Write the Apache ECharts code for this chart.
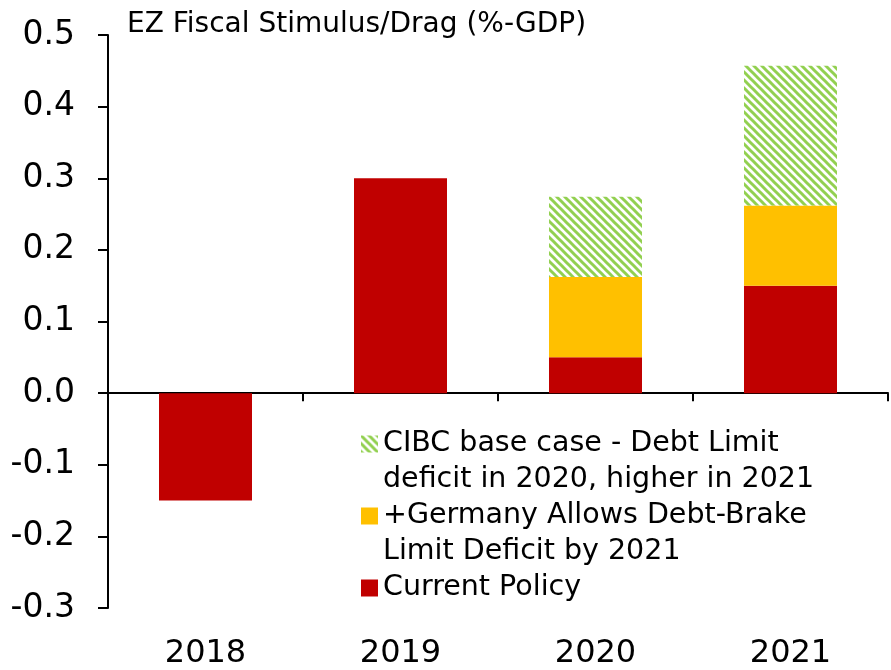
<!DOCTYPE html>
<html>
<head>
<meta charset="utf-8">
<script src="https://cdn.jsdelivr.net/npm/echarts@6/dist/echarts.min.js"></script>
<style>
  html, body { margin: 0; padding: 0; background: #fff; }
  #chart { width: 891px; height: 670px; }
</style>
</head>
<body>
<div id="chart"></div>
<script>
// Fiscal impulse by year, % of GDP
const years = ['2018', '2019', '2020', '2021'];
const currentPolicy = [-0.15, 0.30, 0.05, 0.15];
const germanyDebtBrake = [null, null, 0.112, 0.112];
const cibcBaseCase = [null, null, 0.112, 0.195];

const yMin = -0.3, yMax = 0.5, yStep = 0.1;

const nameCibc = 'CIBC base case - Debt Limit\ndeficit in 2020, higher in 2021';
const nameGermany = '+Germany Allows Debt-Brake\nLimit Deficit by 2021';
const nameCurrent = 'Current Policy';

const FONT = '"DejaVu Sans", sans-serif';
const LH = 36;

// diagonal green hatch tile
function hatchTile() {
  const c = document.createElement('canvas');
  c.width = 8; c.height = 8;
  const g = c.getContext('2d');
  g.fillStyle = '#ffffff';
  g.fillRect(0, 0, 8, 8);
  g.strokeStyle = '#92D050';
  g.lineWidth = 3;
  g.lineCap = 'square';
  [-8, 0, 8].forEach(dx => {
    g.beginPath();
    g.moveTo(dx, 0);
    g.lineTo(dx + 8, 8);
    g.stroke();
  });
  return c;
}
const hatch = { image: hatchTile(), repeat: 'repeat' };

const chart = echarts.init(document.getElementById('chart'), null, { renderer: 'canvas' });

chart.setOption({
  animation: false,
  textStyle: { fontFamily: FONT, color: '#000' },
  title: {
    text: 'EZ Fiscal Stimulus/Drag (%-GDP)',
    left: 127, top: 11, padding: 0,
    textStyle: { fontFamily: FONT, fontSize: 28, fontWeight: 'normal', color: '#000' }
  },
  legend: {
    orient: 'vertical',
    left: 361, top: 444 - 1.5 * LH,
    height: 300,
    padding: 0,
    itemGap: -LH,
    itemWidth: 17, itemHeight: 17,
    icon: 'rect',
    selectedMode: false,
    // pad each entry with blank lines so the swatch sits beside the first line
    formatter: name => name.indexOf('\n') >= 0 ? ' \n' + name : ' \n' + name + '\n ',
    textStyle: { fontFamily: FONT, fontSize: 28.5, color: '#000', lineHeight: LH },
    data: [nameCibc, nameGermany, nameCurrent]
  },
  grid: { left: 108, right: 3, top: 35, bottom: 62, containLabel: false },
  xAxis: [
    {
      type: 'category',
      data: years,
      axisLine: { onZero: true, lineStyle: { color: '#000', width: 2 } },
      axisTick: { show: true, length: 8, lineStyle: { color: '#000', width: 2 } },
      axisLabel: { show: false }
    },
    {
      type: 'category',
      data: years,
      position: 'bottom',
      axisLine: { show: false, onZero: false },
      axisTick: { show: false },
      axisLabel: { show: true, fontSize: 32, color: '#000', margin: 30, fontFamily: FONT }
    }
  ],
  yAxis: {
    type: 'value',
    min: yMin, max: yMax, interval: yStep,
    splitLine: { show: false },
    axisLine: { show: true, lineStyle: { color: '#000', width: 2 } },
    axisTick: { show: true, length: 10, lineStyle: { color: '#000', width: 2 } },
    axisLabel: {
      fontSize: 33, color: '#000', margin: 33, fontFamily: FONT,
      padding: [4, 0, 0, 0],
      formatter: v => v.toFixed(1)
    }
  },
  series: [
    {
      name: nameCurrent, type: 'bar', stack: 'total', xAxisIndex: 0,
      barWidth: 93, data: currentPolicy,
      itemStyle: { color: '#C00000' }
    },
    {
      name: nameGermany, type: 'bar', stack: 'total', xAxisIndex: 0,
      barWidth: 93, data: germanyDebtBrake,
      itemStyle: { color: '#FFC000' }
    },
    {
      name: nameCibc, type: 'bar', stack: 'total', xAxisIndex: 0,
      barWidth: 93, data: cibcBaseCase,
      itemStyle: { color: hatch }
    }
  ]
});
</script>
</body>
</html>
